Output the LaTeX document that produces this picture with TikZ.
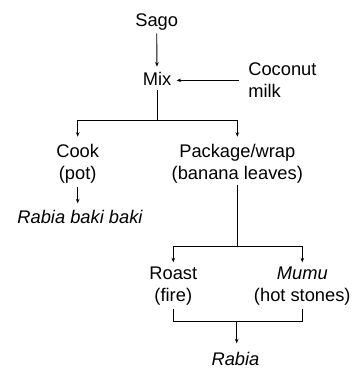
\documentclass[tikz,border=0pt]{standalone}
\usepackage{fontspec}
\setmainfont{Liberation Sans}
\usetikzlibrary{arrows.meta}
\begin{document}
\begin{tikzpicture}[x=1pt,y=-1pt,
  every node/.style={font=\fontsize{18.3pt}{22.5pt}\selectfont, inner sep=0pt, outer sep=0pt},
  one/.style={anchor=base, text height=13.3pt, text depth=4pt},
  two/.style={anchor=north, align=center},
  wire/.style={line width=0.9pt},
  arr/.style={wire, -{Stealth[length=4.5pt,width=3.6pt]}}]
\useasboundingbox (0,0) rectangle (363,370);
% nodes
\node[one] (sago) at (156.7,26) {Sago};
\node[one] (mix) at (157,85) {Mix};
\node[anchor=north west, align=left] (coco) at (248.3,62.7) {Coconut\\milk};
\node[two] (cook) at (77.7,144) {Cook\\(pot)};
\node[two] (pack) at (237.3,144) {Package/wrap\\(banana leaves)};
\node[one] (rbb) at (80,223.3) {\itshape Rabia baki baki};
\node[two] (roast) at (173.3,266.7) {Roast\\(fire)};
\node[two] (mumu) at (302.3,266.7) {\textit{Mumu}\\(hot stones)};
\node[one] (rabia) at (235.5,365) {\itshape Rabia};
% junctions
\coordinate (j1) at (157,120);
\coordinate (j2) at (237.3,246.7);
\coordinate (j3) at (236.7,321.7);
% connectors
\draw[arr, shorten <=3.3pt, shorten >=5pt] (sago.south) -- (mix.north);
\draw[arr, shorten <=9pt, shorten >=5.4pt] (mix.east -| coco.west) -- (mix.east);
\draw[wire, shorten <=1pt] (mix.south) -- (j1);
\draw[arr, shorten >=7.3pt] (j1) -| (cook.north);
\draw[arr, shorten >=7.3pt] (j1) -| (pack.north);
\draw[arr, shorten <=3pt, shorten >=6.7pt] (cook.south) -- (cook.south |- rbb.north);
\draw[wire, shorten <=1pt] (pack.south) -- (j2);
\draw[arr, shorten >=4.4pt] (j2) -| (roast.north);
\draw[arr, shorten >=4.4pt] (j2) -| (mumu.north);
\draw[wire, shorten <=3pt] (roast.south) |- (j3);
\draw[wire, shorten <=3pt] (mumu.south) |- (j3);
\draw[arr, shorten >=8.4pt] (j3) -- (j3 |- rabia.north);
\end{tikzpicture}
\end{document}
